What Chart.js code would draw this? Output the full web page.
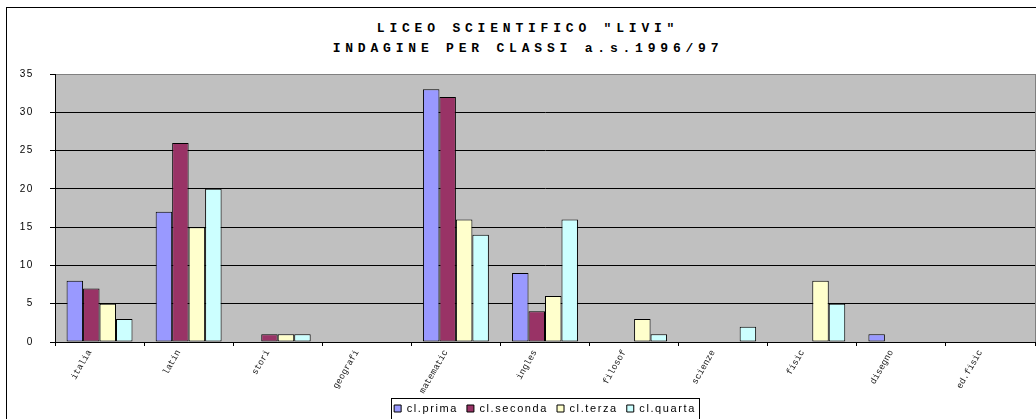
<!DOCTYPE html>
<html lang="it">
<head>
<meta charset="utf-8">
<title>Liceo Scientifico Livi</title>
<script src="https://cdn.jsdelivr.net/npm/chart.js"></script>
<style>
  html, body { margin: 0; padding: 0; background: #fff; overflow: hidden; }
  #cadre { position: absolute; left: 6px; top: 7px; width: 1100px; height: 500px; border: 1px solid #000; }
  #titre {
    position: absolute; left: 0; top: 19px; width: 1056px;
    text-align: center; font: bold 13px "Liberation Mono", monospace;
    letter-spacing: 4.8px; line-height: 20px; color: #000;
  }
  #zona { position: absolute; left: 7px; top: 8px; width: 1036px; height: 416px; }
</style>
</head>
<body>
<div id="cadre"></div>
<div id="titre">LICEO SCIENTIFICO "LIVI"<br>INDAGINE PER CLASSI a.s.1996/97</div>
<div id="zona"><canvas id="grafico"></canvas></div>

<script>
  // materie (etichette come appaiono, tagliate)
  const materie = ['italia', 'latin', 'stori', 'geografi', 'matematic', 'ingles', 'filosof', 'scienze', 'fisic', 'disegno', 'ed.fisic'];

  const prima   = [8, 17, 0, 0, 33, 9, 0, 0, 0, 1, 0];
  const seconda = [7, 26, 1, 0, 32, 4, 0, 0, 0, 0, 0];
  const terza   = [5, 15, 1, 0, 16, 6, 3, 0, 8, 0, 0];
  const quarta  = [3, 20, 1, 0, 14, 16, 1, 2, 5, 0, 0];

  const classi = ['cl.prima', 'cl.seconda', 'cl.terza', 'cl.quarta'];
  const colori = ['#9999FF', '#993366', '#FFFFCC', '#CCFFFF'];
  const serie = [prima, seconda, terza, quarta];

  // sfondo grigio dell'area, spaziatura lettere, cornice legenda
  const decoro = {
    id: 'decoro',
    beforeLayout(chart) { chart.ctx.letterSpacing = '1.6px'; },
    afterLayout(chart) { chart.ctx.letterSpacing = '0px'; },
    beforeDraw(chart) {
      const { ctx, chartArea: a } = chart;
      ctx.save();
      ctx.fillStyle = '#C0C0C0';
      ctx.fillRect(a.left, a.top, a.right - a.left, a.bottom - a.top);
      ctx.strokeStyle = '#808080';
      ctx.lineWidth = 1;
      ctx.strokeRect(a.left + 0.5, a.top + 0.5, a.right - a.left, a.bottom - a.top);
      ctx.restore();
      ctx.letterSpacing = '1.6px';
    },
    afterDatasetsDraw(chart) { chart.ctx.letterSpacing = '0px'; },
    afterDraw(chart) {
      const boxes = chart.legend.legendHitBoxes;
      if (!boxes || !boxes.length) return;
      const first = boxes[0], last = boxes[boxes.length - 1];
      const mid = first.top + first.height / 2;
      const ctx = chart.ctx;
      ctx.save();
      ctx.strokeStyle = '#000';
      ctx.lineWidth = 1;
      ctx.strokeRect(Math.round(first.left) - 2.5, Math.round(mid) - 10.5,
        Math.round(last.left + last.width - first.left) + 6, 23);
      ctx.restore();
    }
  };

  const ctx = document.getElementById('grafico').getContext('2d');
  new Chart(ctx, {
    type: 'bar',
    data: {
      labels: materie,
      datasets: serie.map((d, i) => ({
        label: classi[i],
        data: d,
        backgroundColor: colori[i],
        borderColor: '#000',
        borderWidth: 1,
        borderSkipped: false,
        categoryPercentage: 0.74,
        barPercentage: 1.0
      }))
    },
    options: {
      responsive: true,
      maintainAspectRatio: false,
      animation: false,
      layout: { padding: { top: 66, right: 8, left: 0, bottom: 0 } },
      plugins: {
        title: { display: false },
        tooltip: { enabled: false },
        legend: {
          position: 'bottom',
          fullSize: false,
          labels: {
            boxWidth: 7,
            boxHeight: 7,
            padding: 9,
            color: '#000',
            font: { family: 'Liberation Sans, Arial', size: 11 }
          }
        }
      },
      scales: {
        x: {
          grid: {
            display: true,
            drawOnChartArea: false,
            offset: true,
            color: '#000',
            tickLength: 4
          },
          border: { color: '#000', width: 1 },
          ticks: {
            z: 1,
            autoSkip: false,
            minRotation: 60,
            maxRotation: 60,
            padding: 2,
            labelOffset: -10,
            color: '#222',
            font: { family: 'Liberation Mono, monospace', size: 9 }
          },
          afterFit(scale) { scale.height = 52; }
        },
        y: {
          min: 0,
          max: 35,
          ticks: {
            stepSize: 5,
            padding: 16,
            color: '#000',
            font: { family: 'Liberation Sans, Arial', size: 10 }
          },
          grid: {
            color: (c) => (c.tick && c.tick.value === 35 ? '#808080' : '#000'),
            tickColor: '#000',
            tickLength: 5,
            lineWidth: 1
          },
          border: { color: '#000', width: 1 },
          afterFit(scale) { scale.width = 48; }
        }
      }
    },
    plugins: [decoro]
  });
</script>
</body>
</html>
